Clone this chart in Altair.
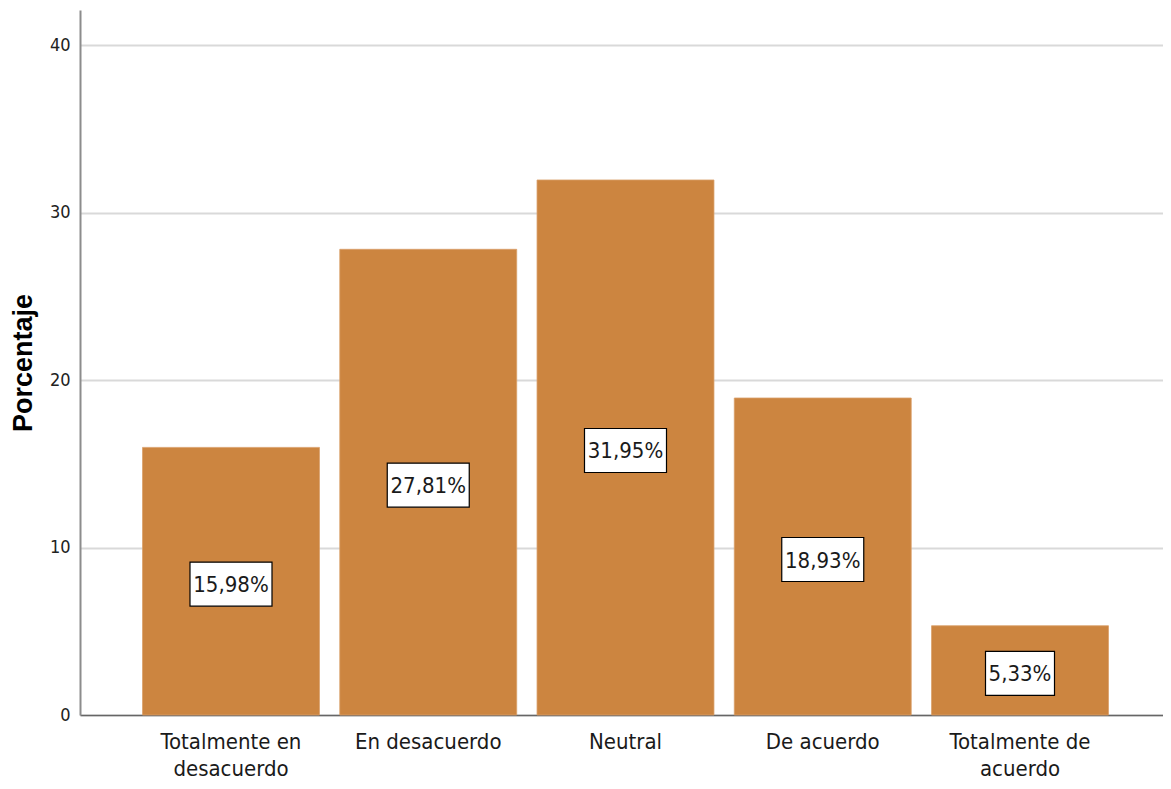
import altair as alt
import pandas as pd

categories = ["Totalmente en\ndesacuerdo", "En desacuerdo", "Neutral", "De acuerdo", "Totalmente de\nacuerdo"]
values = [15.98, 27.81, 31.95, 18.93, 5.33]
labels = ["15,98%", "27,81%", "31,95%", "18,93%", "5,33%"]
y_ticks = [0, 10, 20, 30, 40]

df = pd.DataFrame({"cat": categories, "val": values, "label": labels})

FONT = "DejaVu Sans Condensed, Liberation Sans, sans-serif"

x_scale = alt.Scale(paddingInner=0.103, paddingOuter=0.317, range=[0, 1091])
y_scale = alt.Scale(domain=[0, 42.1], nice=False)

x_enc = alt.X(
    "cat:N",
    sort=categories,
    title=None,
    scale=x_scale,
    axis=alt.Axis(
        labelAngle=0,
        labelExpr="split(datum.label, '\\n')",
        labelFont=FONT,
        labelFontSize=22,
        labelColor="#1a1a1a",
        labelLineHeight=27,
        labelPadding=16,
        labelBaseline="top",
        ticks=False,
        domainColor="#666666",
        domainWidth=1.5,
        grid=False,
    ),
)

bars = alt.Chart(df).mark_bar(color="#cc8540", stroke="#d9a06a", strokeWidth=0.8).encode(
    x=x_enc,
    y=alt.Y(
        "val:Q",
        scale=y_scale,
        title="Porcentaje",
        axis=alt.Axis(
            values=y_ticks,
            ticks=False,
            labelFont=FONT,
            labelFontSize=18,
            labelColor="#222222",
            labelPadding=10,
            domainColor="#8c8c8c",
            domainWidth=2,
            gridColor="#d9d9d9",
            gridWidth=2,
            titleFont="Liberation Sans",
            titleFontSize=27,
            titleFontWeight="bold",
            titleColor="#000000",
            titlePadding=12,
        ),
    ),
)

base = alt.Chart(df).transform_calculate(mid="datum.val / 2")
x_plain = alt.X("cat:N", sort=categories)
y_plain = alt.Y("mid:Q", scale=y_scale)

box6 = base.transform_filter("length(datum.label) == 6").mark_point(
    shape="M-1,-0.5366L1,-0.5366L1,0.5366L-1,0.5366Z",
    size=82 * 82,
    filled=True,
    fill="white",
    stroke="black",
    strokeWidth=1.2,
    opacity=1,
    yOffset=3,
).encode(x=x_plain, y=y_plain)

box5 = base.transform_filter("length(datum.label) == 5").mark_point(
    shape="M-1,-0.6377L1,-0.6377L1,0.6377L-1,0.6377Z",
    size=69 * 69,
    filled=True,
    fill="white",
    stroke="black",
    strokeWidth=1.2,
    opacity=1,
    yOffset=3,
).encode(x=x_plain, y=y_plain)

text = base.mark_text(
    font=FONT,
    fontSize=22,
    color="#1a1a1a",
    baseline="middle",
    align="center",
    yOffset=4,
).encode(x=x_plain, y=y_plain, text="label:N")

chart = (
    alt.layer(bars, box6, box5, text)
    .properties(
        width=1083,
        height=705,
        padding={"left": 72, "top": 2, "right": 0, "bottom": 66},
        autosize=alt.AutoSizeParams(type="none"),
        background="white",
    )
    .configure_view(stroke="transparent", strokeWidth=0)
)

chart.save("out.html", embed_options={"renderer": "svg", "actions": False})
